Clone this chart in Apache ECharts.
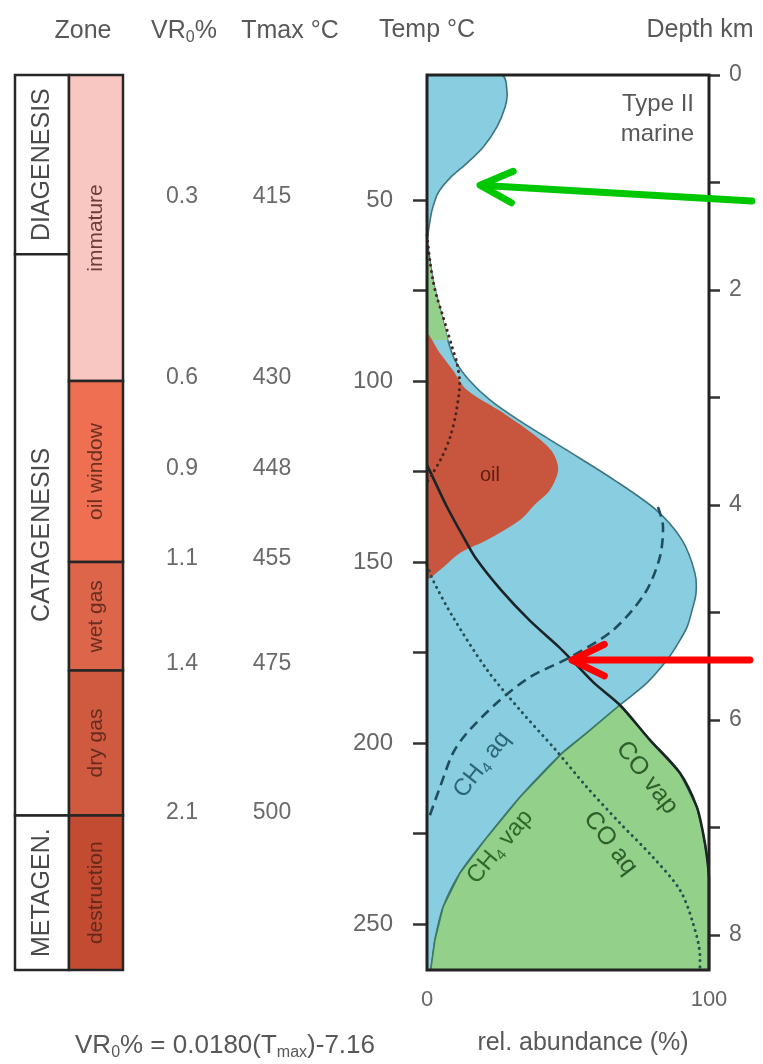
<!DOCTYPE html>
<html>
<head>
<meta charset="utf-8">
<script src="https://cdn.jsdelivr.net/npm/echarts@6/dist/echarts.min.js"></script>
<style>
  html, body { margin: 0; padding: 0; background: #fff; }
  #chart { width: 763px; height: 1064px; }
</style>
</head>
<body>
<div id="chart"></div>
<script>
// ---------- axis ranges ----------
const TEMP_MIN = 15.47;          // °C at the surface (top of column)
const TEMP_MAX = 262.7;          // °C at the base of the column
const GRADIENT = 29.7;           // °C per km
const DEPTH_MAX = (TEMP_MAX - TEMP_MIN) / GRADIENT;

const tempTicks = [50, 75, 100, 125, 150, 175, 200, 225, 250];
const tempLabels = [50, 100, 150, 200, 250];
const depthTicks = [0, 1, 2, 3, 4, 5, 6, 7, 8];
const depthLabels = [0, 2, 4, 6, 8];
const abundanceLabels = [0, 100];

// ---------- maturity zones (°C limits) ----------
const zoneNames = ['DIAGENESIS', 'CATAGENESIS', 'METAGEN.'];
const zoneLimits = [TEMP_MIN, 65, 220, TEMP_MAX];
const stageNames = ['immature', 'oil window', 'wet gas', 'dry gas', 'destruction'];
const stageLimits = [TEMP_MIN, 100, 150, 180, 220, TEMP_MAX];

// ---------- maturity indicators ----------
const markerTemps = [50, 100, 125, 150, 179, 220];
const vroValues = ['0.3', '0.6', '0.9', '1.1', '1.4', '2.1'];
const tmaxValues = ['415', '430', '448', '455', '475', '500'];

// ---------- fluid curves: [relative abundance %, temperature °C] ----------
const earlyGas = [[26.6, 15.5], [28.4, 20.4], [27.7, 24.3], [24.8, 29.8], [19.9, 35.4],
  [14.2, 39.8], [8.2, 43.9], [3.9, 48.1], [1.8, 52.8], [0.7, 57.5], [0, 61.0]];

const gasEnvelope = [[0, 62.4], [2.1, 72.1], [5.0, 81.2], [7.4, 88.7], [9.9, 94.2],
  [14.9, 99.7], [22.3, 105.2], [32.5, 110.8], [49.6, 119.1], [66.3, 127.3], [81.2, 135.6],
  [90.4, 143.9], [95.0, 153.0], [95.4, 158.6], [94.0, 163.3], [92.2, 168.0], [88.7, 172.9],
  [85.1, 177.1], [78.0, 183.4], [68.4, 189.5], [56.7, 197.2], [47.9, 202.8], [33.0, 214.9],
  [21.3, 226.0], [11.7, 235.9], [5.7, 245.3], [2.8, 254.4], [1.3, 262.7]];

const oil = [[0, 87.3], [4.6, 92.3], [9.2, 97.0], [14.2, 102.5], [26.9, 108.8], [39.0, 115.5],
  [44.7, 119.9], [46.5, 124.6], [43.6, 130.1], [38.0, 134.3], [33.0, 138.4], [21.3, 143.9],
  [11.7, 147.5], [4.6, 152.2], [0, 154.4]];

const coVap = [[0, 123.2], [2.5, 127.3], [7.1, 134.8], [13.5, 143.9], [17.7, 149.4],
  [26.2, 157.7], [36.2, 166.0], [46.8, 173.5], [51.4, 177.1], [59.2, 183.4], [68.4, 189.5],
  [79.1, 199.2], [89.7, 208.3], [95.7, 217.7], [97.9, 224.9], [99.3, 231.5], [100, 237.8],
  [100, 262.7]];

const ch4Aq = [[81.9, 134.8], [83.7, 140.3], [82.6, 148.6], [77.3, 158.6], [66.0, 168.8],
  [50.7, 176.3], [36.5, 181.8], [24.8, 188.9], [14.2, 197.2], [9.2, 202.8], [4.6, 212.2],
  [0.4, 221.3]];

const oilAq = [[0, 59.7], [1.0, 66.6], [2.1, 72.1], [3.5, 76.8], [5.3, 81.2], [7.1, 85.9],
  [8.9, 90.6], [10.6, 95.0], [11.6, 100.5], [10.3, 108.8], [8.2, 115.5], [5.3, 121.0],
  [2.1, 125.4], [0, 128.0]];

const coAq = [[0, 150.8], [2.1, 155.0], [9.2, 165.2], [21.3, 179.8], [33.0, 190.9],
  [45.5, 201.8], [56.7, 212.2], [68.4, 222.1], [80.1, 231.5], [89.7, 240.6], [94.3, 249.7],
  [96.8, 259.1], [96.8, 262.7]];

// ---------- curve labels ----------
const curveLabelText = ['oil', '{n|CH}{s|4}{n| aq}', '{n|CH}{s|4}{n| vap}', 'CO vap', 'CO aq'];
const curveLabelAt = [[22.3, 126.0], [19.5, 206.0], [25.9, 228.7], [78.0, 209.6], [65.0, 227.6]];

// ---------- annotation arrows (tip / tail in abundance-temperature space) ----------
const arrowTips = [[18.8, 45.9], [51.4, 177.1]];
const arrowTails = [[115.2, 50.3], [114.5, 177.1]];

// ---------- styling ----------
const FONT = "'Liberation Sans', Arial, sans-serif";
const TEXT = '#585858';
const BLUE = '#88cee0';
const GREEN = '#93d18a';
const OIL = '#c8553e';
const stageFill = ['#f9c7c2', '#ef6f52', '#dc654a', '#cf5a40', '#c34b31'];
const curveLabelAngle = [0, 52, 50, -52, -53];
const curveLabelColor = ['#5e1d12', '#2b6577', '#2e6a2b', '#2e5f2a', '#2e5f2a'];
const curveLabelSize = [20, 24, 24, 25, 25];
const arrowColors = ['#00c800', '#ff0000'];

const chart = echarts.init(document.getElementById('chart'));

// Polygon region in the abundance/temperature plot
function region(points, fill, stroke, smooth) {
  return {
    type: 'custom', xAxisIndex: 0, yAxisIndex: 0, clip: true, silent: true,
    data: [points[0]],
    renderItem: (params, api) => ({
      type: 'polygon',
      shape: { points: points.map(p => api.coord(p)), smooth: smooth || 0 },
      style: { fill: fill, stroke: stroke || null, lineWidth: stroke ? 1.6 : 0 }
    })
  };
}

// Curve drawn as a line series
function curve(points, color, width, dash, cap) {
  return {
    type: 'line', xAxisIndex: 0, yAxisIndex: 0, data: points, symbol: 'none',
    smooth: 0.3, silent: true, z: 5,
    lineStyle: { color: color, width: width, type: dash || 'solid', cap: cap || 'butt' }
  };
}

// Rectangles of a maturity column (col 0 = zone, col 1 = stage)
function column(col, names, limits, fills, textSize, textColor) {
  return {
    type: 'custom', xAxisIndex: 1, yAxisIndex: 2, silent: true, clip: false,
    data: names.map((n, i) => [col, limits[i]]),
    renderItem: (params, api) => {
      const i = params.dataIndex;
      const a = api.coord([col, limits[i]]);
      const b = api.coord([col + 1, limits[i + 1]]);
      return {
        type: 'group',
        children: [{
          type: 'rect',
          shape: { x: a[0], y: a[1], width: b[0] - a[0], height: b[1] - a[1] },
          style: { fill: fills[i], stroke: '#262626', lineWidth: 2.5 }
        }, {
          type: 'text',
          x: (a[0] + b[0]) / 2, y: (a[1] + b[1]) / 2, rotation: Math.PI / 2,
          style: {
            text: names[i], fill: textColor, font: textSize + 'px ' + FONT,
            align: 'center', verticalAlign: 'middle', textAlign: 'center', textVerticalAlign: 'middle'
          }
        }]
      };
    }
  };
}

// Indicator values at their temperatures
function indicator(col, values) {
  return {
    type: 'custom', xAxisIndex: 2, yAxisIndex: 3, silent: true, clip: false,
    data: markerTemps.map(t => [col, t]),
    renderItem: (params, api) => {
      const p = api.coord([col, markerTemps[params.dataIndex]]);
      return {
        type: 'text', x: p[0], y: p[1] - 3,
        style: {
          text: values[params.dataIndex], fill: '#6a6a6a', font: '23px ' + FONT,
          align: 'center', verticalAlign: 'middle', textAlign: 'center', textVerticalAlign: 'middle'
        }
      };
    }
  };
}

const sliver = gasEnvelope.filter(p => p[1] <= 88.7).concat([[0, 88.7]]);
const crossT = 189.5;
const deepGas = coVap.filter(p => p[1] >= crossT)
  .concat(gasEnvelope.filter(p => p[1] >= crossT).reverse());

const labelSeries = {
  type: 'custom', xAxisIndex: 0, yAxisIndex: 0, silent: true, clip: false, z: 6,
  data: curveLabelAt,
  renderItem: (params, api) => {
    const i = params.dataIndex;
    const p = api.coord(curveLabelAt[i]);
    const c = curveLabelColor[i], s = curveLabelSize[i];
    return {
      type: 'text', x: p[0], y: p[1], rotation: curveLabelAngle[i] * Math.PI / 180,
      style: {
        text: curveLabelText[i], fill: c, font: s + 'px ' + FONT,
        align: 'center', verticalAlign: 'middle', textAlign: 'center', textVerticalAlign: 'middle',
        rich: {
          n: { fontSize: s, fontFamily: FONT, fill: c, lineHeight: s + 4 },
          s: { fontSize: Math.round(s * 0.62), fontFamily: FONT, fill: c, verticalAlign: 'bottom', lineHeight: Math.round(s * 0.62) }
        }
      }
    };
  }
};

const frameSeries = {
  type: 'custom', xAxisIndex: 0, yAxisIndex: 0, silent: true, clip: false, z: 8,
  data: [[0, TEMP_MIN]],
  renderItem: (params, api) => {
    const a = api.coord([0, TEMP_MIN]);
    const b = api.coord([100, TEMP_MAX]);
    return {
      type: 'rect',
      shape: { x: a[0], y: a[1], width: b[0] - a[0], height: b[1] - a[1] },
      style: { fill: null, stroke: '#222', lineWidth: 3 }
    };
  }
};

const hidden = { show: false };
const tempAxisHidden = (grid) => ({
  gridIndex: grid, type: 'value', inverse: true, min: TEMP_MIN, max: TEMP_MAX, show: false
});

chart.setOption({
  animation: false,
  backgroundColor: '#fff',
  grid: [
    { left: 427, top: 75, width: 282, height: 895 },
    { left: 15, top: 75, width: 108, height: 895 },
    { left: 137, top: 75, width: 180, height: 895 }
  ],
  xAxis: [
    {
      gridIndex: 0, type: 'value', min: 0, max: 100,
      axisLine: hidden, axisTick: hidden, splitLine: hidden,
      axisLabel: { customValues: abundanceLabels, margin: 19, color: '#666', fontSize: 22, fontFamily: FONT },
      name: 'rel. abundance (%)', nameLocation: 'middle', nameGap: 61,
      nameTextStyle: { color: TEXT, fontSize: 25, fontFamily: FONT, padding: [0, 0, 0, 30] }
    },
    { gridIndex: 1, type: 'value', min: 0, max: 2, show: false },
    { gridIndex: 2, type: 'category', data: ['VR', 'Tmax'], show: false }
  ],
  yAxis: [
    {
      gridIndex: 0, type: 'value', inverse: true, min: TEMP_MIN, max: TEMP_MAX,
      axisLine: hidden, splitLine: hidden,
      axisTick: { show: true, customValues: tempTicks, length: 14, lineStyle: { color: '#333', width: 2.5 } },
      axisLabel: { customValues: tempLabels, margin: 34, color: '#666', fontSize: 24, fontFamily: FONT },
      name: 'Temp °C', nameLocation: 'start', nameGap: 32,
      nameTextStyle: { color: TEXT, fontSize: 25, fontFamily: FONT }
    },
    {
      gridIndex: 0, type: 'value', position: 'right', inverse: true, min: 0, max: DEPTH_MAX,
      axisLine: hidden, splitLine: hidden,
      axisTick: { show: true, customValues: depthTicks, length: 11, lineStyle: { color: '#333', width: 2.5 } },
      axisLabel: { customValues: depthLabels, margin: 20, color: '#666', fontSize: 23, fontFamily: FONT },
      name: 'Depth km', nameLocation: 'start', nameGap: 32,
      nameTextStyle: { color: TEXT, fontSize: 25, fontFamily: FONT, padding: [0, 18, 0, 0] }
    },
    tempAxisHidden(1),
    tempAxisHidden(2)
  ],
  series: [
    column(0, zoneNames, zoneLimits, ['#fff', '#fff', '#fff'], 25, '#4a4a4a'),
    column(1, stageNames, stageLimits, stageFill, 21, 'rgba(85,35,25,0.85)'),
    indicator(0, vroValues),
    indicator(1, tmaxValues),
    region(earlyGas.concat([[0, TEMP_MIN]]), BLUE, '#3d7480', 0.3),
    region(gasEnvelope.concat([[0, TEMP_MAX]]), BLUE, '#3d7480', 0.3),
    region(sliver, GREEN, null, 0),
    region(deepGas, GREEN, '#3d7a5c', 0),
    region(oil, OIL, null, 0.3),
    curve(coVap, '#1b2426', 2.6),
    curve(ch4Aq, '#1f4d5e', 2.6, [10, 6]),
    curve(oilAq, '#4a2520', 3, [0.1, 6], 'round'),
    curve(coAq, '#27504f', 3, [0.1, 6], 'round'),
    labelSeries,
    frameSeries
  ]
});

// Header, footer and annotation graphics
const rich = (size) => ({
  n: { fontSize: size, fontFamily: FONT, fill: TEXT, lineHeight: size + 4 },
  s: { fontSize: Math.round(size * 0.62), fontFamily: FONT, fill: TEXT, verticalAlign: 'bottom', lineHeight: Math.round(size * 0.62) }
});
const textEl = (x, y, text, size, align) => ({
  type: 'text', x: x, y: y, z: 50,
  style: {
    text: text, fill: TEXT, font: size + 'px ' + FONT, rich: rich(size),
    align: align || 'center', verticalAlign: 'middle',
    textAlign: align || 'center', textVerticalAlign: 'middle'
  }
});

const graphics = [
  textEl(83, 31, 'Zone', 25),
  textEl(184, 31, '{n|VR}{s|0}{n|%}', 25),
  textEl(290, 31, 'Tmax °C', 25),
  textEl(225, 1046, '{n|VR}{s|0}{n|% = 0.0180(T}{s|max}{n|)-7.16}', 26),
  textEl(694, 104, 'Type II', 24, 'right'),
  textEl(694, 134, 'marine', 24, 'right')
];

const toPx = (p) => chart.convertToPixel({ xAxisIndex: 0, yAxisIndex: 0 }, p);
arrowTips.forEach((tipVal, i) => {
  const tip = toPx(tipVal), tail = toPx(arrowTails[i]);
  const ang = Math.atan2(tail[1] - tip[1], tail[0] - tip[0]);
  const L = 36, spread = 26 * Math.PI / 180;
  const arm1 = [tip[0] + L * Math.cos(ang - spread), tip[1] + L * Math.sin(ang - spread)];
  const arm2 = [tip[0] + L * Math.cos(ang + spread), tip[1] + L * Math.sin(ang + spread)];
  const start = [tip[0] + 4 * Math.cos(ang), tip[1] + 4 * Math.sin(ang)];
  const st = { stroke: arrowColors[i], lineWidth: 7, lineCap: 'round', lineJoin: 'round', fill: null };
  graphics.push({ type: 'polyline', z: 60, shape: { points: [start, tail] }, style: st });
  graphics.push({ type: 'polyline', z: 60, shape: { points: [arm1, tip, arm2] }, style: st });
});

chart.setOption({ graphic: graphics });
</script>
</body>
</html>
